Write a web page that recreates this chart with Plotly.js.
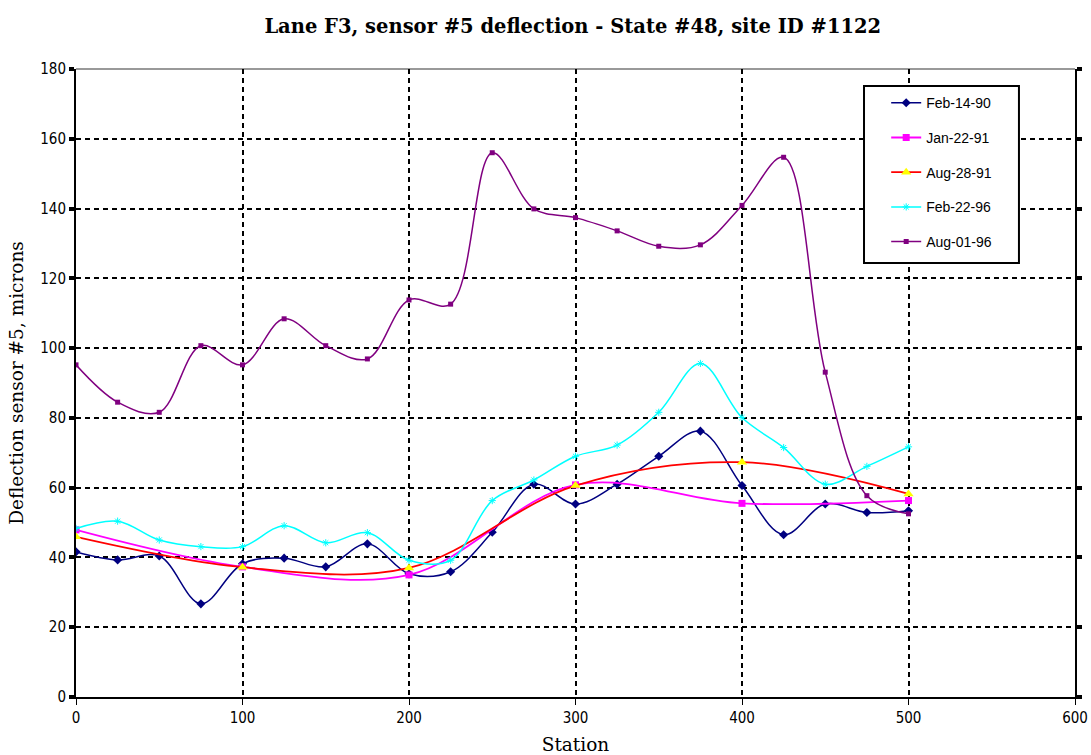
<!DOCTYPE html>
<html>
<head>
<meta charset="utf-8">
<script src="https://cdn.plot.ly/plotly-3.0.1.min.js"></script>
<style>html,body{margin:0;padding:0;background:#fff;}#chart{width:1091px;height:755px;}</style>
</head>
<body>
<div id="chart"></div>
<script>
// Stations
const stationsFine = [0,25,50,75,100,125,150,175,200,225,250,275,300,325,350,375,400,425,450,475,500];
const stationsCoarse = [0,100,200,300,400,500];

// Series values (microns)
const feb1490 = [41.6,39.3,40.4,26.7,38.2,39.8,37.3,43.9,35.3,35.9,47.2,61.0,55.3,61.0,69.0,76.2,60.6,46.5,55.3,52.9,53.4];
const jan2291 = [47.9,37.3,35.0,60.8,55.5,56.3];
const aug2891 = [45.9,37.2,37.0,60.6,67.3,58.2];
const feb2296 = [48.3,50.4,45.0,43.1,43.1,49.1,44.2,47.1,39.2,39.2,56.3,62.2,69.0,72.2,81.6,95.6,80.1,71.5,61.0,66.1,71.7];
const aug0196 = [95.2,84.5,81.6,100.7,95.2,108.4,100.7,96.9,113.8,112.6,156.0,139.9,137.4,133.6,129.2,129.6,140.9,154.7,93.1,57.7,52.5];

const names = ["Feb-14-90","Jan-22-91","Aug-28-91","Feb-22-96","Aug-01-96"];
const xTicks = [0,100,200,300,400,500,600];
const yTicks = [0,20,40,60,80,100,120,140,160,180];

function tr(x, y, name, lineColor, marker, lw) {
  return {
    x: x, y: y, name: name, type: 'scatter', mode: 'lines+markers',
    legendgroup: name,
    line: {color: lineColor, width: lw, shape: 'spline', smoothing: 1},
    marker: marker
  };
}

const data = [
  tr(stationsFine, feb1490, names[0], '#000080', {symbol:'diamond', size:7, color:'#000080'}, 1.5),
  tr(stationsCoarse, jan2291, names[1], '#FF00FF', {symbol:'square', size:7, color:'#FF00FF'}, 1.8),
  tr(stationsCoarse, aug2891, names[2], '#FF0000', {symbol:'triangle-up', size:9, color:'#FFFF00'}, 1.8),
  tr(stationsFine, feb2296, names[3], '#00FFFF', {symbol:'asterisk-open', size:6, color:'#00FFFF', line:{color:'#00FFFF', width:1}}, 1.5),
  tr(stationsFine, aug0196, names[4], '#800080', {symbol:'square', size:5, color:'#800080'}, 1.5)
];

const tickFont = {family: 'Liberation Sans Narrow, DejaVu Sans Condensed, Arial Narrow, sans-serif', size: 15, color: '#000'};
const titleFont = {family: 'DejaVu Serif, serif', size: 18.5, color: '#000'};

const layout = {
  width: 1091, height: 755,
  paper_bgcolor: '#fff', plot_bgcolor: '#fff',
  margin: {l: 76, r: 16, t: 69, b: 58},
  title: {text: '<b>Lane F3, sensor #5 deflection - State #48, site ID #1122</b>',
          font: {family: 'DejaVu Serif, serif', size: 19.5, color: '#000'},
          x: 0.525, xanchor: 'center', y: 0.965, yanchor: 'middle'},
  xaxis: {
    range: [0, 600], tickvals: xTicks, ticktext: xTicks.map(String),
    showgrid: true, gridcolor: '#000', griddash: '5px,4px', gridwidth: 2,
    showline: true, linecolor: '#000', linewidth: 2,
    ticks: 'outside', ticklen: 6, tickwidth: 1, tickcolor: '#000',
    zeroline: false,
    tickfont: tickFont,
    title: {text: 'Station', font: titleFont, standoff: 12}
  },
  yaxis: {
    range: [0, 180], tickvals: yTicks, ticktext: yTicks.map(String),
    showgrid: true, gridcolor: '#000', griddash: '5px,4px', gridwidth: 2,
    showline: true, linecolor: '#000', linewidth: 2, mirror: 'ticks',
    ticks: 'outside', ticklen: 5, tickwidth: 4, tickcolor: '#000',
    zeroline: false,
    tickfont: tickFont,
    title: {text: 'Deflection sensor #5, microns', font: titleFont, standoff: 12}
  },
  shapes: [
    {type: 'line', xref: 'paper', yref: 'paper', x0: 0, x1: 1, y0: 1, y1: 1,
     line: {color: '#999', width: 2}, layer: 'below'},
    // legend frame
    {type: 'rect', xref: 'paper', yref: 'paper', x0: 0.7888, x1: 0.9439, y0: 0.6911, y1: 0.9729,
     line: {color: '#000', width: 2}, fillcolor: '#fff', layer: 'above'}
  ],
  legend: {
    x: 0.811, y: 0.971, xanchor: 'left', yanchor: 'top',
    bgcolor: 'rgba(0,0,0,0)', borderwidth: 0,
    font: {family: 'Liberation Sans, Arial, sans-serif', size: 14, color: '#000'},
    traceorder: 'grouped', tracegroupgap: 13.5, itemwidth: 30
  },
  showlegend: true
};

Plotly.newPlot('chart', data, layout, {displayModeBar: false, staticPlot: true});
</script>
</body>
</html>
